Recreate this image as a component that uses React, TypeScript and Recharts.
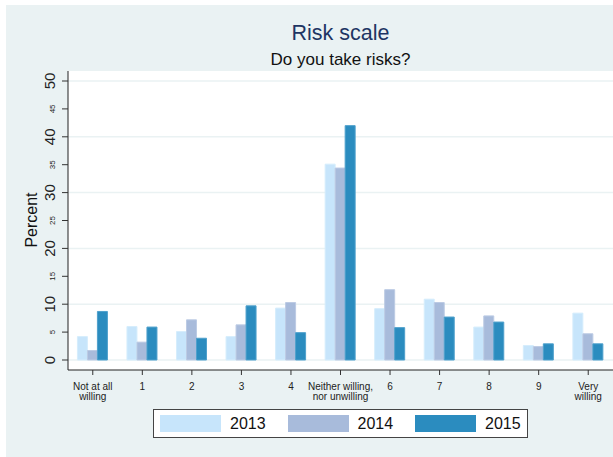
import { BarChart, Bar, XAxis, YAxis, CartesianGrid, Legend } from 'recharts';

const categories = [
  'Not at all willing',
  '1',
  '2',
  '3',
  '4',
  'Neither willing, nor unwilling',
  '6',
  '7',
  '8',
  '9',
  'Very willing',
];
// two-line tick labels, as printed under the axis
const tickLines: Record<string, string[]> = {
  'Not at all willing': ['Not at all', 'willing'],
  'Neither willing, nor unwilling': ['Neither willing,', 'nor unwilling'],
  'Very willing': ['Very', 'willing'],
};

const years = ['2013', '2014', '2015'];
const values2013 = [4.2, 6.0, 5.1, 4.2, 9.3, 35.1, 9.2, 10.9, 5.9, 2.6, 8.4];
const values2014 = [1.7, 3.2, 7.2, 6.3, 10.3, 34.4, 12.6, 10.3, 7.9, 2.4, 4.7];
const values2015 = [8.7, 5.9, 3.9, 9.7, 4.9, 42.0, 5.8, 7.7, 6.8, 2.9, 2.9];

const yTicks = [0, 5, 10, 15, 20, 25, 30, 35, 40, 45, 50];
const majorTicks = [0, 10, 20, 30, 40, 50];

const FILL = ['#C7E5FB', '#A8BBDB', '#2B8CBF'];
const EDGE = ['#D6EDFC', '#BCCBE4', '#4FA0CC'];
const FONT = '"Liberation Sans", Arial, Helvetica, sans-serif';
const BG = '#EAF2F3';

const data = categories.map((c, i) => ({
  name: c,
  '2013': values2013[i],
  '2014': values2014[i],
  '2015': values2015[i],
}));

function YTick({ x, y, payload }: any) {
  const major = majorTicks.includes(payload.value);
  const bx = major ? x - 5 : x - 5;
  return (
    <text
      x={bx}
      y={y}
      transform={`rotate(-90 ${bx} ${y})`}
      textAnchor="middle"
      fontFamily={FONT}
      fontSize={major ? 15 : 8}
      fill="#222"
    >
      {payload.value}
    </text>
  );
}

function XTick({ x, y, payload }: any) {
  const lines = tickLines[payload.value] ?? [payload.value];
  return (
    <text x={x} y={y} textAnchor="middle" fontFamily={FONT} fontSize={10} fill="#222">
      {lines.map((l, i) => (
        <tspan key={i} x={x} y={y + 13 + i * 10}>
          {l}
        </tspan>
      ))}
    </text>
  );
}

function LegendBox() {
  return (
    <div
      style={{
        width: 373,
        height: 27,
        border: '1px solid #444',
        background: '#fff',
        position: 'relative',
        fontFamily: FONT,
      }}
    >
      {years.map((yr, i) => (
        <div
          key={yr}
          style={{ position: 'absolute', left: 6 + i * 127.5, top: 5, display: 'flex', alignItems: 'center' }}
        >
          <div style={{ width: 61, height: 17, background: FILL[i] }} />
          <span style={{ marginLeft: 9, fontSize: 16, color: '#111', lineHeight: '17px' }}>{yr}</span>
        </div>
      ))}
    </div>
  );
}

export default function App() {
  return (
    <div style={{ position: 'absolute', left: 0, top: 0, width: 613, height: 457, background: '#fff' }}>
      <div style={{ position: 'absolute', left: 6, top: 5, right: 0, bottom: 0, background: BG }} />
      <svg
        width={613}
        height={70}
        style={{ position: 'absolute', left: 0, top: 0 }}
        fontFamily={FONT}
      >
        <text x={340.5} y={40} textAnchor="middle" fontSize={21.5} fill="#1E3563">
          Risk scale
        </text>
        <text x={340.5} y={65} textAnchor="middle" fontSize={17} fill="#111">
          Do you take risks?
        </text>
      </svg>
      <div style={{ position: 'absolute', left: 0, top: 0 }}>
        <BarChart
          width={613}
          height={457}
          data={data}
          margin={{ top: 71, right: 0, bottom: 0, left: 0 }}
          barCategoryGap="19%"
          barGap={0}
        >
          <CartesianGrid
            vertical={false}
            horizontalValues={majorTicks}
            stroke={BG}
            strokeWidth={1.5}
            fill="#fff"
          />
          <XAxis
            dataKey="name"
            interval={0}
            height={87}
            tickSize={5}
            tick={<XTick />}
            stroke="#222"
            tickLine={{ stroke: '#333' }}
          />
          <YAxis
            width={68}
            domain={[0, 50]}
            ticks={yTicks}
            padding={{ top: 10, bottom: 10 }}
            tickSize={6}
            tick={<YTick />}
            stroke="#222"
            tickLine={{ stroke: '#333' }}
            label={{
              content: () => (
                <text
                  x={37}
                  y={220}
                  transform="rotate(-90 37 220)"
                  textAnchor="middle"
                  fontFamily={FONT}
                  fontSize={16}
                  fill="#111"
                >
                  Percent
                </text>
              ),
            }}
          />
          <Legend
            layout="horizontal"
            verticalAlign="middle"
            align="center"
            wrapperStyle={{ top: 409, left: 153, width: 375 }}
            content={() => <LegendBox />}
          />
          {years.map((yr, i) => (
            <Bar
              key={yr}
              dataKey={yr}
              fill={FILL[i]}
              stroke={EDGE[i]}
              strokeWidth={1}
              isAnimationActive={false}
            />
          ))}
        </BarChart>
      </div>
    </div>
  );
}
